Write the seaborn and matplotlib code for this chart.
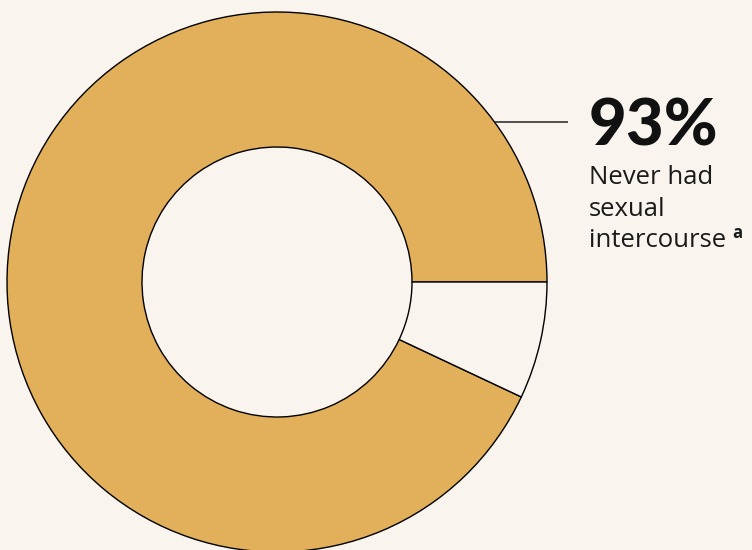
import numpy as np
import matplotlib
matplotlib.use("Agg")
import matplotlib.pyplot as plt
import seaborn as sns

# Share of respondents
labels = ["Never had sexual intercourse", "Had sexual intercourse"]
shares = [93, 7]
slice_colors = ["#E2B05A", "#F9F5EE"]
headline = "93%"
caption_lines = ["Never had", "sexual", "intercourse"]
footnote = "a"

BG = "#F9F5EE"
sns.set_theme(style="white", rc={"figure.facecolor": BG, "axes.facecolor": BG})
plt.rcParams["font.family"] = ["Lato", "DejaVu Sans"]

W, H = 752, 550
fig = plt.figure(figsize=(W / 100, H / 100), dpi=100)
ax = fig.add_axes([0, 0, 1, 1])

cx, cy = 277, H - 282
r_out, r_in = 270, 135

ax.pie(shares, colors=slice_colors, startangle=0, counterclock=True,
       center=(cx, cy), radius=r_out, frame=True,
       wedgeprops=dict(width=r_out - r_in, edgecolor="black", linewidth=1.0))
ax.set_xlim(0, W)
ax.set_ylim(0, H)
ax.set_aspect("equal")
ax.axis("off")

# Leader line from the ring edge to the label
ang = np.deg2rad(36.3)
x0, y0 = cx + r_out * np.cos(ang), cy + r_out * np.sin(ang)
ax.plot([x0, 568], [y0, y0], color="#333333", lw=1.2, solid_capstyle="butt")

ax.text(589, H - 145, headline, fontsize=47, fontweight="black",
        color="#111111", ha="left", va="baseline")
base = H - 184
last = None
for i, line in enumerate(caption_lines):
    last = ax.text(589, base - i * 31.5, line, fontsize=18.5, color="#1a1a1a",
                   family=["Open Sans", "DejaVu Sans"],
                   ha="left", va="baseline")

# Footnote marker placed just after the last caption line
fig.canvas.draw()
bb = last.get_window_extent(fig.canvas.get_renderer())
ax.text(bb.x1 + 6, base - 2 * 31.5 + 9, footnote, fontsize=12, fontweight="bold",
        family=["Open Sans", "DejaVu Sans"],
        color="#1a1a1a", ha="left", va="baseline")

fig.savefig("out.png", dpi=100, facecolor=BG)
